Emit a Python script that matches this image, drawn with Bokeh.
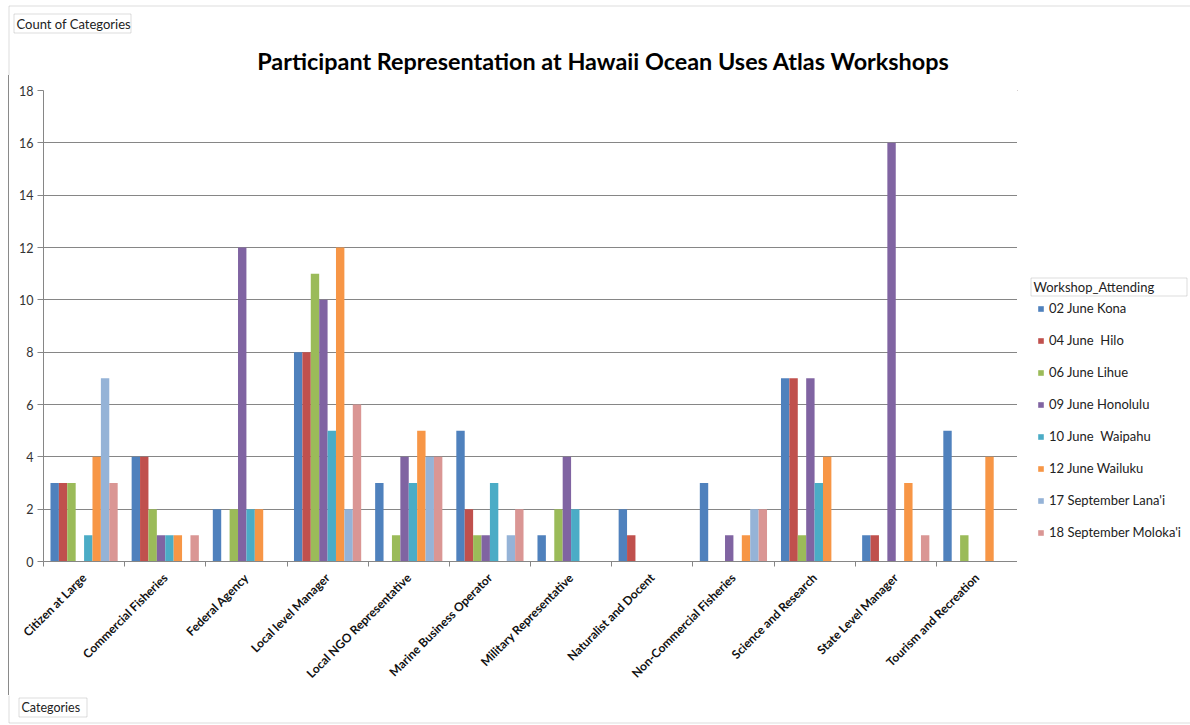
from bokeh.plotting import figure
from bokeh.models import (ColumnDataSource, Range1d, Label, Legend, LegendItem,
                          BoxAnnotation, FactorRange, Spacer, LinearAxis,
                          CategoricalAxis, FixedTicker)
from bokeh.layouts import column, row
from bokeh.transform import dodge
from bokeh.embed import file_html
from bokeh.resources import INLINE
import math

categories = ["Citizen at Large", "Commercial Fisheries", "Federal Agency",
              "Local level Manager", "Local NGO Representative",
              "Marine Business Operator", "Military Representative",
              "Naturalist and Docent", "Non-Commercial Fisheries",
              "Science and Research", "State Level Manager",
              "Tourism and Recreation"]

workshops = ["02 June Kona", "04 June  Hilo", "06 June Lihue", "09 June Honolulu",
             "10 June  Waipahu", "12 June Wailuku", "17 September Lana'i",
             "18 September Moloka'i"]

kona     = [3, 4, 2, 8, 3, 5, 1, 2, 3, 7, 1, 5]
hilo     = [3, 4, 0, 8, 0, 2, 0, 1, 0, 7, 1, 0]
lihue    = [3, 2, 2, 11, 1, 1, 2, 0, 0, 1, 0, 1]
honolulu = [0, 1, 12, 10, 4, 1, 4, 0, 1, 7, 16, 0]
waipahu  = [1, 1, 2, 5, 3, 3, 2, 0, 0, 3, 0, 0]
wailuku  = [4, 1, 2, 12, 5, 0, 0, 0, 1, 4, 3, 4]
lanai    = [7, 0, 0, 2, 4, 1, 0, 0, 2, 0, 0, 0]
molokai  = [3, 1, 0, 6, 4, 2, 0, 0, 2, 0, 1, 0]

y_ticks = [0, 2, 4, 6, 8, 10, 12, 14, 16, 18]

title_text = "Participant Representation at Hawaii Ocean Uses Atlas Workshops"
y_title = "Count of Categories"
x_title = "Categories"
legend_title = "Workshop_Attending"

series = [kona, hilo, lihue, honolulu, waipahu, wailuku, lanai, molokai]
colors = ["#4F81BD", "#C0504D", "#9BBB59", "#8064A2", "#4BACC6", "#F79646",
          "#95B3D7", "#DA9694"]

FONT = "Lato"
EDGE = "#8a8a8a"
AXIS = "#868686"
TEXT = "#222222"


def blank(w, h, x0=0, y0=0, top=0, bottom=0):
    """A bare figure in page-pixel coordinates (y grows downward)."""
    f = figure(width=w, height=h,
               x_range=Range1d(x0, x0 + w),
               y_range=Range1d(y0 + h - bottom, y0 + top),
               output_backend="svg", toolbar_location=None,
               min_border_left=0, min_border_right=0, min_border_top=top,
               min_border_bottom=bottom)
    f.axis.visible = False
    f.grid.visible = False
    f.outline_line_color = None
    f.background_fill_color = "white"
    f.border_fill_color = "white"
    return f


def frame_box(f, left, right, top, bottom):
    f.add_layout(BoxAnnotation(left=left, right=right, top=top, bottom=bottom,
                               fill_alpha=0, line_color=EDGE, line_width=1))


def text(f, x, y, s, size="13px", bold=False, align="left"):
    f.add_layout(Label(x=x, y=y, text=s, text_font=FONT, text_font_size=size,
                       text_font_style="bold" if bold else "normal",
                       text_align=align, text_baseline="middle",
                       text_color="#000000" if bold else TEXT))


# ---- top strip: title and value-field box
top = blank(1190, 75)
frame_box(top, 8.5, 1300, 5.5, 500)
frame_box(top, 13.5, 130.5, 13.5, 32.5)
text(top, 16, 23, y_title)
text(top, 603, 60, title_text, size="23.4px", bold=True, align="center")

# ---- main chart
data = {"cat": categories}
for i, s in enumerate(series):
    data[f"s{i}"] = s
source = ColumnDataSource(data)

p = figure(width=1008, height=620, x_range=FactorRange(*categories),
           y_range=Range1d(0, 18), output_backend="svg", toolbar_location=None,
           x_axis_location=None,
           min_border_left=34, min_border_right=0, min_border_top=15,
           min_border_bottom=134)
p.outline_line_color = None
p.background_fill_color = "white"
p.border_fill_color = "white"

bar_w = 0.1035
for i, name in enumerate(workshops):
    p.vbar(x=dodge("cat", (i - 3.5) * bar_w, range=p.x_range),
           top=f"s{i}", width=bar_w, source=source,
           fill_color=colors[i], line_color=None)

p.yaxis.ticker = y_ticks
p.ygrid.grid_line_color = AXIS
p.xgrid.grid_line_color = None
p.yaxis.axis_line_color = AXIS
p.yaxis.major_tick_line_color = AXIS
p.yaxis.major_tick_out = 6
p.yaxis.major_tick_in = 0
p.yaxis.minor_tick_line_color = None
p.yaxis.major_label_text_font = FONT
p.yaxis.major_label_text_font_size = "12.5px"
p.yaxis.major_label_text_color = "#333333"
p.yaxis.major_label_standoff = 4

# axis line with tick marks on the boundaries between categories
# (category k spans k..k+1 in the factor range's own coordinates)
edges = list(range(len(categories) + 1))
edge_axis = LinearAxis(ticker=FixedTicker(ticks=edges),
                       axis_line_color=AXIS, major_tick_line_color=AXIS,
                       major_tick_out=5, major_tick_in=0,
                       minor_tick_line_color=None, major_label_standoff=0,
                       major_label_overrides={e: "" for e in edges},
                       major_label_text_font_size="0px")
p.add_layout(edge_axis, "below")

cat_axis = CategoricalAxis(axis_line_color=None, major_tick_line_color=None,
                           minor_tick_line_color=None,
                           major_label_orientation=math.pi / 4,
                           major_label_text_font=FONT,
                           major_label_text_font_style="bold",
                           major_label_text_font_size="12px",
                           major_label_text_color="#111111",
                           major_label_standoff=3)
p.add_layout(cat_axis, "below")

# ---- right strip: legend (same frame rows as the chart: page y 90..561)
side = blank(173, 620, x0=1017, y0=75, top=15, bottom=134)
frame_box(side, 1030.5, 1186.5, 277.5, 295.5)
text(side, 1033, 286.5, legend_title)
key_src = ColumnDataSource(dict(x=[0], top=[0]))
items = []
for i, name in enumerate(workshops):
    r = side.vbar(x="x", top="top", bottom=0, width=1, source=key_src,
                  fill_color=colors[i], line_color=None)
    items.append(LegendItem(label=name, renderers=[r]))
legend = Legend(items=items, location=(20, 19), margin=0, padding=0,
                border_line_color=None, background_fill_alpha=0,
                glyph_width=7, glyph_height=7, label_height=20, spacing=12,
                label_standoff=5, label_text_font=FONT,
                label_text_font_size="13px", label_text_color=TEXT)
side.add_layout(legend)

# ---- bottom strip: category-field box
bottom = blank(1190, 30, y0=695)
frame_box(bottom, 8.5, 1300, 600, 722.5)
frame_box(bottom, 18.5, 86.5, 697.5, 716.5)
text(bottom, 21, 707, x_title, size="12.5px")

# chart border on the left edge of the middle band
edge = Spacer(width=1, height=620, styles={"background-color": EDGE})

layout = column(top, row(Spacer(width=8, height=620), edge, p, side), bottom)
open("out.html", "w").write(file_html(layout, INLINE))
